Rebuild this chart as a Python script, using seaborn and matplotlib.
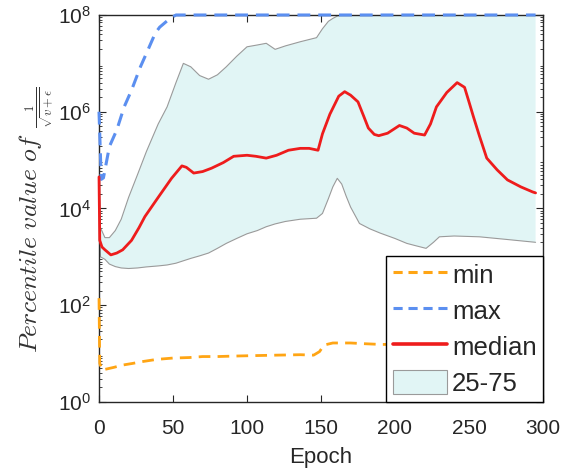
import numpy as np
import pandas as pd
import matplotlib
matplotlib.use("Agg")
import matplotlib.pyplot as plt
from matplotlib.patches import Patch
from matplotlib.lines import Line2D
from matplotlib.ticker import LogLocator, NullFormatter
import seaborn as sns

# ---- data -------------------------------------------------------------
min_epochs = [0, 0.5, 2, 5, 10, 16, 23, 30, 39, 50, 61, 70, 80, 91, 105, 120,
              136, 145, 149, 152, 158, 170, 180, 190, 200, 230, 260, 295]
min_values = [140, 6.3, 4.6, 4.8, 5.2, 5.8, 6.3, 6.9, 7.6, 8.1, 8.3, 8.7, 8.7,
              8.9, 9.1, 9.3, 9.5, 9.3, 11, 15, 16.6, 16.6, 16, 15.5, 15.5,
              15.8, 15.8, 15.8]

max_epochs = [0, 1.5, 3, 7, 12, 17, 22, 28, 32, 38, 41, 48, 52, 295]
max_values = [1e6, 4.0e4, 4.3e4, 1.9e5, 4.2e5, 1.26e6, 2.8e6, 8.5e6, 1.6e7,
              4.2e7, 5.6e7, 8.5e7, 1e8, 1e8]

median_epochs = [0, 0.5, 2, 4, 8, 12, 16, 22, 27, 31, 40, 49, 56, 59, 64, 70,
                 76, 84, 91, 100, 106, 113, 120, 128, 136, 142, 148, 151, 156,
                 162, 166, 170, 175, 179, 182, 186, 189, 195, 203, 208, 213,
                 220, 224, 228, 235, 242, 247, 250, 253, 257, 262, 269, 276,
                 285, 293, 295]
median_values = [4.5e4, 2.2e3, 1.6e3, 1.4e3, 1.1e3, 1.2e3, 1.4e3, 2.2e3,
                 4.0e3, 6.8e3, 1.7e4, 4.2e4, 7.6e4, 7.1e4, 5.4e4, 5.8e4,
                 6.8e4, 8.9e4, 1.2e5, 1.26e5, 1.2e5, 1.1e5, 1.26e5, 1.6e5,
                 1.75e5, 1.75e5, 1.6e5, 3.5e5, 8.9e5, 2.1e6, 2.6e6, 2.2e6,
                 1.6e6, 7.9e5, 4.6e5, 3.4e5, 3.2e5, 3.6e5, 5.2e5, 4.6e5,
                 3.6e5, 3.3e5, 5.6e5, 1.26e6, 2.5e6, 4.0e6, 3.2e6, 1.6e6,
                 7.9e5, 3.2e5, 1.1e5, 6.3e4, 3.9e4, 2.8e4, 2.2e4, 2.1e4]

band_epochs = [0, 1, 4, 7, 11, 15, 20, 26, 32, 40, 46, 52, 57, 62, 68, 74, 80,
               86, 93, 100, 107, 113, 119, 126, 136, 147, 151, 155, 158, 161,
               164, 167, 170, 176, 183, 190, 200, 208, 214, 221, 226, 230,
               240, 257, 275, 295]
q75_values = [4.0e4, 4.0e3, 2.5e3, 2.5e3, 3.5e3, 6.0e3, 1.7e4, 5.0e4, 1.5e5,
              5.6e5, 1.26e6, 4.0e6, 1.0e7, 8.5e6, 5.6e6, 4.7e6, 5.8e6, 8.5e6,
              1.4e7, 2.2e7, 2.4e7, 2.6e7, 1.95e7, 2.3e7, 2.8e7, 3.4e7, 5.2e7,
              7.4e7, 8.5e7, 9.5e7, 1e8, 1e8, 1e8, 1e8, 1e8, 1e8, 1e8, 1e8,
              1e8, 1e8, 1e8, 1e8, 1e8, 1e8, 1e8, 1e8]
q25_values = [3.2e4, 1.0e3, 890, 710, 630, 590, 575, 590, 620, 650, 680, 740,
              830, 930, 1.05e3, 1.2e3, 1.5e3, 1.9e3, 2.4e3, 3.0e3, 3.5e3,
              4.2e3, 4.8e3, 5.4e3, 6.0e3, 6.3e3, 7.9e3, 1.6e4, 2.8e4, 4.2e4,
              3.2e4, 1.8e4, 1.07e4, 4.9e3, 3.8e3, 3.1e3, 2.4e3, 1.9e3, 1.7e3,
              1.5e3, 2.0e3, 2.6e3, 2.7e3, 2.6e3, 2.3e3, 2.0e3]

x_ticks = [0, 50, 100, 150, 200, 250, 300]
y_ticks = [1e0, 1e2, 1e4, 1e6, 1e8]
legend_labels = ["min", "max", "median", "25-75"]

# ---- style ------------------------------------------------------------
C_MIN = "#ffa514"
C_MAX = "#5b8ff0"
C_MED = "#ee1c1c"
C_BAND = "#e1f5f5"
C_EDGE = "#9a9a9a"
INK = "#262626"

sns.set_theme(style="ticks")
plt.rcParams["font.family"] = ["Liberation Sans", "DejaVu Sans"]
plt.rcParams.update({
    "xtick.direction": "in", "ytick.direction": "in",
    "xtick.top": True, "ytick.right": True,
    "xtick.color": INK, "ytick.color": INK,
    "axes.edgecolor": INK, "axes.linewidth": 1.0,
})

fig = plt.figure(figsize=(5.70, 4.73), dpi=100)
ax = fig.add_axes([0.1737, 0.1501, 0.9526 - 0.1737, 0.9683 - 0.1501])

band = pd.DataFrame({"epoch": band_epochs, "q25": q25_values, "q75": q75_values})
ax.fill_between(band["epoch"], band["q25"], band["q75"], facecolor=C_BAND,
                edgecolor="none", zorder=1)
sns.lineplot(data=band, x="epoch", y="q75", ax=ax, color=C_EDGE, lw=0.8,
             estimator=None, sort=False, zorder=2)
sns.lineplot(data=band, x="epoch", y="q25", ax=ax, color=C_EDGE, lw=0.8,
             estimator=None, sort=False, zorder=2)

sns.lineplot(x=min_epochs, y=min_values, ax=ax, color=C_MIN, lw=2.0,
             linestyle=(0, (4.2, 2.6)), estimator=None,
             sort=False, zorder=3, clip_on=False)
sns.lineplot(x=max_epochs, y=max_values, ax=ax, color=C_MAX, lw=2.2,
             linestyle=(0, (4.2, 2.6)), estimator=None, sort=False,
             zorder=3, clip_on=False)
sns.lineplot(x=median_epochs, y=median_values, ax=ax, color=C_MED, lw=2.0,
             estimator=None, sort=False, zorder=4, clip_on=False)

ax.set_yscale("log")
ax.set_xlim(0, 300)
ax.set_ylim(1e0, 1e8)
ax.set_xticks(x_ticks)
ax.set_yticks(y_ticks)
ax.yaxis.set_minor_locator(LogLocator(base=10, subs=np.arange(2, 10), numticks=50))
ax.yaxis.set_minor_formatter(NullFormatter())
ax.tick_params(which="major", length=5, width=0.8, labelsize=15,
               labelcolor=INK)
ax.tick_params(axis="x", which="major", pad=12)
ax.tick_params(axis="y", which="major", pad=6)
ax.tick_params(which="minor", length=2.5, width=0.6)
for side in ("top", "right", "left", "bottom"):
    ax.spines[side].set_visible(True)
    ax.spines[side].set_color(INK)

ax.set_xlabel("Epoch", fontsize=16, color=INK, labelpad=7)
ax.set_ylabel(r"$Percentile\ value\ of\ {}_{\frac{1}{\sqrt{v+\epsilon}}}$",
              fontsize=18.5, color="#333333", math_fontfamily="cm")
ax.yaxis.set_label_coords(-0.10, 0.47)

handles = [
    Line2D([], [], color=C_MIN, lw=2.2, linestyle=(0, (3.0, 1.9))),
    Line2D([], [], color=C_MAX, lw=2.2, linestyle=(0, (3.0, 1.9))),
    Line2D([], [], color=C_MED, lw=2.6),
    Patch(facecolor=C_BAND, edgecolor=C_EDGE, lw=0.8),
]
leg = ax.legend(handles, legend_labels, loc="lower right",
                bbox_to_anchor=(1, 0), borderaxespad=0, fontsize=18.5,
                frameon=True, fancybox=False, framealpha=1, edgecolor="black",
                handlelength=2.1, handleheight=1.05, handletextpad=0.2,
                labelspacing=0.4, borderpad=0.25)
leg.get_frame().set_linewidth(1.0)
leg.set_zorder(10)

fig.savefig("out.png", dpi=100, facecolor="white")
